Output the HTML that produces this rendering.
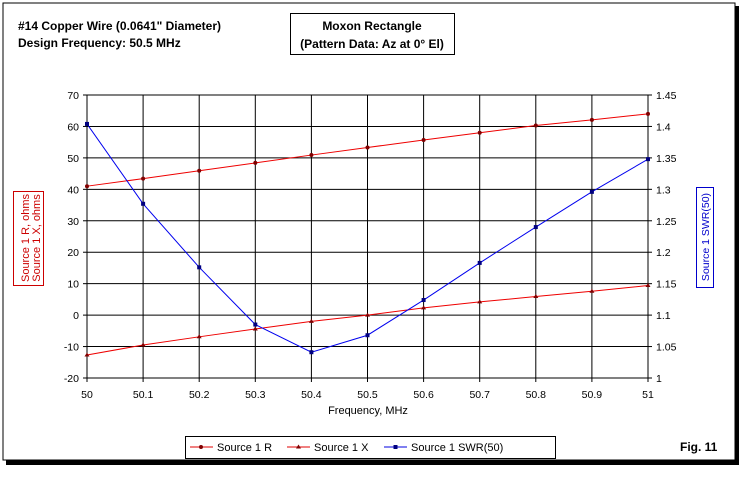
<!DOCTYPE html>
<html><head><style>
body{margin:0;background:#fff;}
svg text{font-family:"Liberation Sans",Arial,sans-serif;}
</style></head><body>
<svg id="s" width="744" height="473" xmlns="http://www.w3.org/2000/svg">
<rect x="0" y="0" width="744" height="473" fill="#fff"/>
<rect x="6" y="6" width="733" height="459" fill="#000"/>
<rect x="3" y="3" width="732" height="457" fill="#fff" stroke="#000" stroke-width="1"/>
<text x="18" y="30" font-size="12" font-weight="bold">#14 Copper Wire (0.0641" Diameter)</text>
<text x="18" y="47" font-size="12" font-weight="bold">Design Frequency:  50.5 MHz</text>
<rect x="290.5" y="13.5" width="164" height="41" fill="#fff" stroke="#000"/>
<text x="372" y="30" font-size="12" font-weight="bold" text-anchor="middle">Moxon Rectangle</text>
<text x="372" y="48" font-size="12" font-weight="bold" text-anchor="middle">(Pattern Data: Az at 0° El)</text>
<g id="grid"></g>
<text x="368" y="414" font-size="11" text-anchor="middle">Frequency, MHz</text>
<rect x="13.5" y="191.5" width="30" height="94" fill="#fff" stroke="#cc0000"/>
<text transform="translate(0,238) rotate(-90)" x="0" y="29" font-size="11" fill="#cc0000" text-anchor="middle">Source 1 R, ohms</text>
<text transform="translate(0,238) rotate(-90)" x="0" y="40" font-size="11" fill="#cc0000" text-anchor="middle">Source 1 X, ohms</text>
<rect x="696.5" y="187.5" width="17" height="100" fill="#fff" stroke="#0000cc"/>
<text transform="translate(709,237) rotate(-90)" font-size="10.5" fill="#0000cc" text-anchor="middle">Source 1 SWR(50)</text>
<rect x="185.5" y="436.5" width="370" height="22" fill="#fff" stroke="#000"/>
<line x1="190" y1="447" x2="213" y2="447" stroke="#e00000"/><circle cx="201" cy="447" r="2" fill="#800000"/>
<text x="217" y="451" font-size="11">Source 1 R</text>
<line x1="287" y1="447" x2="310" y2="447" stroke="#e00000"/><path d="M298.5,444.5 l2.5,4 h-5z" fill="#800000"/>
<text x="314" y="451" font-size="11">Source 1 X</text>
<line x1="384" y1="447" x2="407" y2="447" stroke="#0000e0"/><rect x="393.5" y="445" width="4" height="4" fill="#000080"/>
<text x="411" y="451" font-size="11">Source 1 SWR(50)</text>
<text x="680" y="451" font-size="12" font-weight="bold">Fig. 11</text>
</svg>
<script>
var NS="http://www.w3.org/2000/svg",g=document.getElementById('grid');
function el(t,a,txt){var e=document.createElementNS(NS,t);for(var k in a)e.setAttribute(k,a[k]);if(txt!=null)e.textContent=txt;g.appendChild(e);return e;}
var x0=87,x1=648,yT=95,yB=378;
function X(i){return x0+(x1-x0)*i/10;}
function YL(v){return yB-(v+20)*(yB-yT)/90;}
function YR(v){return yB-(v-1)*(yB-yT)/0.45;}
for(var i=0;i<=9;i++){var y=YL(70-i*10);el('line',{x1:x0,y1:y,x2:x1,y2:y,stroke:'#000'});}
for(var i=0;i<=10;i++){el('line',{x1:X(i),y1:yT,x2:X(i),y2:yB+4,stroke:'#000'});
el('text',{x:X(i),y:yB+20,'font-size':'10.5','text-anchor':'middle'},(50+i/10).toFixed(i==0||i==10?0:1));}
el('line',{x1:x0,y1:yB,x2:x1,y2:yB,stroke:'#000'});
for(var i=0;i<=9;i++){var v=70-i*10,y=YL(v);el('line',{x1:x0-4,y1:y,x2:x0,y2:y,stroke:'#000'});el('line',{x1:x1,y1:y,x2:x1+4,y2:y,stroke:'#000'});
el('text',{x:x0-8,y:y+4,'font-size':'10.5','text-anchor':'end'},v);
var r=(1.45-i*0.05);el('text',{x:x1+8,y:y+4,'font-size':'10.5'},i==9?'1':(+r.toFixed(2)).toString());}
var R=[41,43.4,45.9,48.4,50.9,53.3,55.7,58.0,60.3,62.1,64];
var Xv=[-12.7,-9.5,-6.9,-4.4,-2.0,0,2.3,4.2,5.9,7.6,9.4];
var S=[1.404,1.277,1.176,1.085,1.041,1.068,1.124,1.183,1.24,1.296,1.348];
function line(arr,f,c){var p=arr.map(function(v,i){return X(i)+','+f(v)}).join(' ');el('polyline',{points:p,fill:'none',stroke:c,'stroke-width':1});}
line(R,YL,'#ee0000');line(Xv,YL,'#ee0000');line(S,YR,'#0000ee');
R.forEach(function(v,i){el('circle',{cx:X(i),cy:YL(v),r:2,fill:'#800000'});});
Xv.forEach(function(v,i){var x=X(i),y=YL(v);el('path',{d:'M'+x+','+(y-2.5)+' l2.5,4 h-5z',fill:'#800000'});});
S.forEach(function(v,i){el('rect',{x:X(i)-2,y:YR(v)-2,width:4,height:4,fill:'#000080'});});
</script>
</body></html>
